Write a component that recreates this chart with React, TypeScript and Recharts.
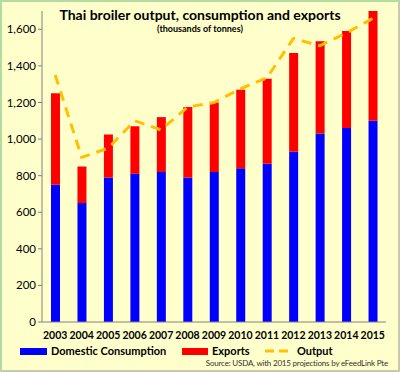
import React from 'react';
import {
  ComposedChart,
  Bar,
  Line,
  XAxis,
  YAxis,
} from 'recharts';

const years = ['2003', '2004', '2005', '2006', '2007', '2008', '2009', '2010', '2011', '2012', '2013', '2014', '2015'];
const domestic = [750, 650, 790, 810, 820, 790, 820, 840, 865, 930, 1030, 1060, 1100];
const exportsVals = [500, 200, 235, 260, 300, 385, 380, 430, 465, 540, 505, 530, 600];
const output = [1350, 900, 950, 1100, 1050, 1175, 1200, 1275, 1335, 1550, 1510, 1580, 1660];
const yTicks = [0, 200, 400, 600, 800, 1000, 1200, 1400, 1600];

const data = years.map((year, i) => ({
  year,
  domestic: domestic[i],
  exports: exportsVals[i],
  output: output[i],
}));

const FONT = 'Lato, "Open Sans", sans-serif';

function ChartLegend() {
  return (
    <div
      style={{
        position: 'absolute',
        left: 0,
        top: 343,
        width: 396,
        height: 12,
        fontWeight: 700,
        fontSize: 11,
        lineHeight: '12px',
        color: '#000',
      }}
    >
      <div style={{ position: 'absolute', left: 18, top: 3, width: 27, height: 7, background: '#0000ff' }} />
      <div style={{ position: 'absolute', left: 49, top: 0 }}>Domestic Consumption</div>
      <div style={{ position: 'absolute', left: 180, top: 3, width: 26, height: 7, background: '#ff0000' }} />
      <div style={{ position: 'absolute', left: 210, top: 0 }}>Exports</div>
      <svg style={{ position: 'absolute', left: 263, top: 4 }} width={28} height={4}>
        <line x1={0} y1={2} x2={28} y2={2} stroke="#ffc000" strokeWidth={3} strokeDasharray="9 5" />
      </svg>
      <div style={{ position: 'absolute', left: 295, top: 0 }}>Output</div>
    </div>
  );
}

export default function App() {
  return (
    <div
      style={{
        position: 'absolute',
        left: 0,
        top: 0,
        width: 400,
        height: 372,
        boxSizing: 'border-box',
        background: '#ffffcc',
        borderTop: '2px solid #b5dca0',
        borderLeft: '2px solid #b5dca0',
        borderRight: '2px solid #c8c8b0',
        borderBottom: '2px solid #c8c8b0',
        fontFamily: FONT,
      }}
    >
      <ComposedChart
        width={396}
        height={368}
        data={data}
        margin={{ top: 9, right: 12, bottom: 18, left: 0 }}
        style={{ position: 'absolute', left: 0, top: 0 }}
      >
        <XAxis
          dataKey="year"
          interval={0}
          stroke="#808080"
          tickLine={false}
          height={30}
          tick={{ fill: '#000', fontSize: 10.5, fontWeight: 700, fontFamily: FONT }}
          tickMargin={4}
        />
        {/* tick marks between the categories */}
        <XAxis
          xAxisId="edges"
          type="number"
          domain={[0, years.length]}
          ticks={years.map((_, i) => i).concat(years.length)}
          stroke="#808080"
          tickSize={4}
          tick={false}
          height={0}
          axisLine={false}
        />
        <YAxis
          width={40}
          domain={[0, 1700]}
          ticks={yTicks}
          interval={0}
          stroke="#808080"
          tickSize={4}
          tickFormatter={(v: number) => v.toLocaleString('en-US')}
          tick={{ fill: '#000', fontSize: 11.5, fontFamily: FONT }}
        />
        <Bar dataKey="domestic" stackId="a" fill="#0000ff" barSize={9} isAnimationActive={false} />
        <Bar dataKey="exports" stackId="a" fill="#ff0000" barSize={9} isAnimationActive={false} />
        <Line
          dataKey="output"
          type="linear"
          stroke="#ffc000"
          strokeWidth={3}
          strokeDasharray="10 7"
          dot={false}
          isAnimationActive={false}
        />
      </ComposedChart>
      <div
        style={{
          position: 'absolute',
          top: 4,
          left: 0,
          width: 396,
          textAlign: 'center',
          fontSize: 14,
          lineHeight: '18px',
          fontWeight: 700,
          color: '#000',
        }}
      >
        Thai broiler output, consumption and exports
      </div>
      <div
        style={{
          position: 'absolute',
          top: 21,
          left: 0,
          width: 396,
          textAlign: 'center',
          fontSize: 9,
          lineHeight: '12px',
          fontWeight: 700,
          color: '#000',
        }}
      >
        (thousands of tonnes)
      </div>
      <ChartLegend />
      <div
        style={{
          position: 'absolute',
          top: 356,
          right: 10,
          fontSize: 8,
          letterSpacing: '-0.2px',
          lineHeight: '10px',
          color: '#333',
        }}
      >
        Source: USDA, with 2015 projections by eFeedLink Pte
      </div>
    </div>
  );
}
